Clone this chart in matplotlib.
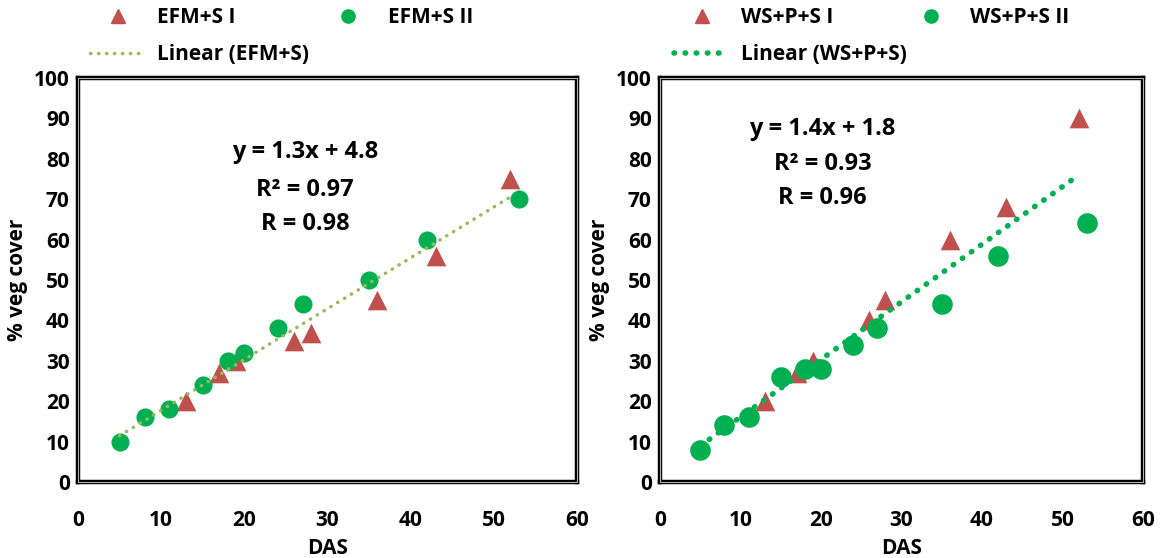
import matplotlib
matplotlib.use('Agg')
import matplotlib.pyplot as plt
from matplotlib.lines import Line2D
from matplotlib.patches import Rectangle
import numpy as np

plt.rcParams['font.family'] = ['Open Sans', 'DejaVu Sans']
plt.rcParams['font.weight'] = 'bold'

# EFM+S panel
efm_i_das = [13, 17, 19, 26, 28, 36, 43, 52]
efm_i_cover = [20, 27, 30, 35, 37, 45, 56, 75]
efm_ii_das = [5, 8, 11, 15, 18, 20, 24, 27, 35, 42, 53]
efm_ii_cover = [10, 16, 18, 24, 30, 32, 38, 44, 50, 60, 70]
efm_lines = ['y = 1.3x + 4.8', 'R² = 0.97', 'R = 0.98']

# WS+P+S panel
ws_i_das = [13, 17, 19, 26, 28, 36, 43, 52]
ws_i_cover = [20, 27, 30, 40, 45, 60, 68, 90]
ws_ii_das = [5, 8, 11, 15, 18, 20, 24, 27, 35, 42, 53]
ws_ii_cover = [8, 14, 16, 26, 28, 28, 34, 38, 44, 56, 64]
ws_lines = ['y = 1.4x + 1.8', 'R² = 0.93', 'R = 0.96']

fit_range = [5, 52]

RED = '#C0504D'
GREEN = '#00B050'
OLIVE = '#9BBB59'

fig = plt.figure(figsize=(11.7, 5.58), dpi=100)
W, H = 1170, 558
FS = 15


def make_panel(rect, das_i, cov_i, das_ii, cov_ii, lines, text_x, text_y,
               names, line_color, line_width, dot_gap, circle_size,
               legend_x, col_space):
    ax = fig.add_axes(rect)
    ax.scatter(das_i, cov_i, marker='^', s=200, color=RED, zorder=3,
               linewidths=0)
    ax.scatter(das_ii, cov_ii, marker='o', s=circle_size, color=GREEN,
               zorder=3, linewidths=0)

    # linear trend through both series
    slope, icpt = np.polyfit(das_i + das_ii, cov_i + cov_ii, 1)
    xs = np.array(fit_range)
    dots = (0, (0.1, dot_gap))
    ax.plot(xs, slope * xs + icpt, linestyle=dots,
            dash_capstyle='round', color=line_color, lw=line_width, zorder=4)
    for line, ty in zip(lines, text_y):
        ax.text(text_x, ty, line, ha='center', va='baseline',
                fontsize=17, fontweight='bold')

    ax.set_xlim(0, 60)
    ax.set_ylim(0, 100)
    ax.set_xticks(range(0, 61, 10))
    ax.set_yticks(range(0, 101, 10))
    ax.tick_params(length=0, labelsize=FS)
    ax.tick_params(axis='x', pad=20)
    ax.tick_params(axis='y', pad=6)
    for lab in ax.get_xticklabels() + ax.get_yticklabels():
        lab.set_fontweight('bold')
    for spine in ax.spines.values():
        spine.set_linewidth(3.2)
        spine.set_color('black')
    # Excel style double border
    ax.add_patch(Rectangle((0, 0), 1, 1, transform=ax.transAxes, fill=False,
                           edgecolor='#B0B0B0', lw=0.8, clip_on=False,
                           zorder=5))
    ax.set_xlabel('DAS', fontsize=FS, fontweight='bold', labelpad=5)
    ax.set_ylabel('% veg cover', fontsize=FS, fontweight='bold', labelpad=4)

    handles = [
        Line2D([], [], marker='^', color=RED, linestyle='none', markersize=10),
        Line2D([], [], color=line_color, linestyle=dots,
               dash_capstyle='round', lw=line_width),
        Line2D([], [], marker='o', color=GREEN, linestyle='none',
               markersize=9.5),
    ]
    labels = [names[0], names[2], names[1]]
    fig.legend(handles, labels, ncol=2, loc='upper left',
               bbox_to_anchor=(legend_x / W, 1 - 7 / H), frameon=False,
               prop={'weight': 'bold', 'size': FS},
               handlelength=2.65, handletextpad=0.58, columnspacing=col_space,
               labelspacing=0.78, borderpad=0, borderaxespad=0)
    return ax


make_panel([78 / W, 1 - 482 / H, 499 / W, 404 / H],
           efm_i_das, efm_i_cover, efm_ii_das, efm_ii_cover,
           efm_lines, 27.3, [80.1, 70.7, 62.3],
           ('EFM+S I', 'EFM+S II', 'Linear (EFM+S)'), OLIVE, 2.5, 2.2, 170,
           90, 0.53)

make_panel([660 / W, 1 - 482 / H, 483 / W, 404 / H],
           ws_i_das, ws_i_cover, ws_ii_das, ws_ii_cover,
           ws_lines, 20.2, [85.8, 77.2, 68.7],
           ('WS+P+S I', 'WS+P+S II', 'Linear (WS+P+S)'), GREEN, 4, 1.9, 220,
           674, -0.2)

fig.savefig('out.png', dpi=100)
